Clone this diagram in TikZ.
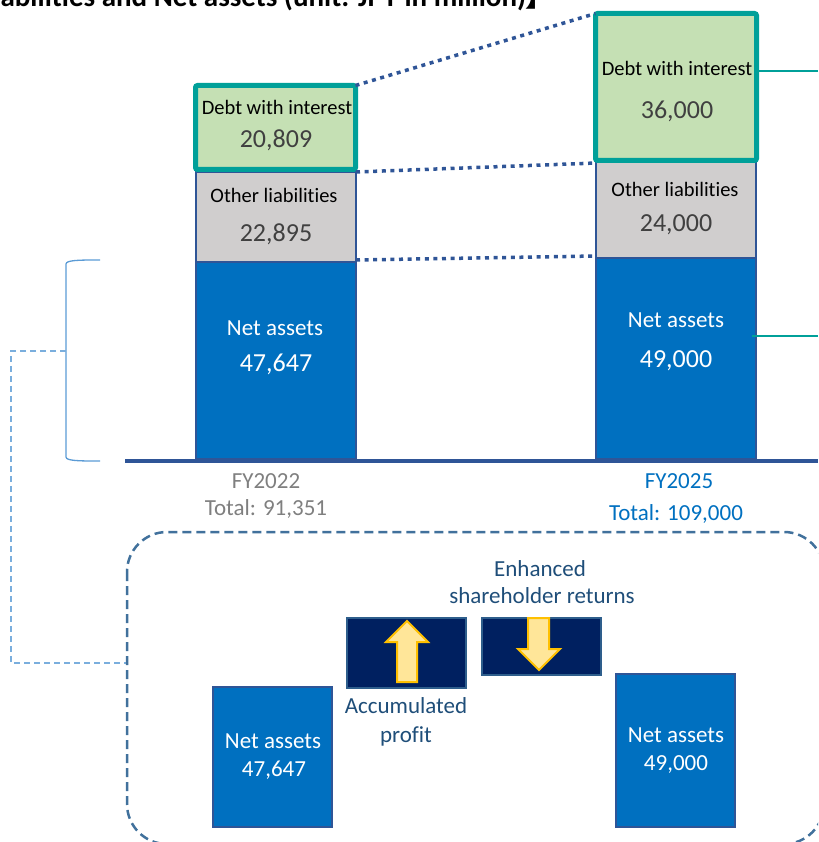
\documentclass[tikz,border=0pt]{standalone}
\usepackage{fontspec}
\setmainfont{Carlito}[RawFeature={-liga}]
\newfontfamily\cjkfont{Noto Sans CJK JP}

\definecolor{axisblue}{HTML}{2F5597}
\definecolor{debtteal}{HTML}{00A099}
\definecolor{greenfill}{HTML}{C5E0B4}
\definecolor{greyfill}{HTML}{D0CECE}
\definecolor{barblue}{HTML}{0070C0}
\definecolor{navyfill}{HTML}{002060}
\definecolor{navyedge}{HTML}{2E5E8C}
\definecolor{arrowfill}{HTML}{FFE699}
\definecolor{arrowedge}{HTML}{FFC000}
\definecolor{labelblue}{HTML}{1F4E79}
\definecolor{frameblue}{HTML}{41719C}
\definecolor{lightblue}{HTML}{5B9BD5}
\definecolor{paleblue}{HTML}{7AAEDD}
\definecolor{yeargrey}{HTML}{7F7F7F}
\definecolor{numgrey}{HTML}{404040}

\begin{document}
\begin{tikzpicture}[x=1pt,y=-1pt,
  seg/.style={draw=axisblue, line width=1.2pt, inner sep=0pt, outer sep=0pt, anchor=north west},
  othseg/.style={seg, fill=greyfill},
  netseg/.style={seg, fill=barblue},
  debtseg/.style={draw=debtteal, line width=5pt, fill=greenfill, rounded corners=2pt,
    inner sep=0pt, outer sep=0pt, anchor=north west},
  lbl/.style={anchor=base, inner sep=0pt},
  seglbl/.style={lbl, font=\fontsize{20.5}{24}\selectfont, text=black},
  segnum/.style={lbl, font=\fontsize{26}{30}\selectfont, text=numgrey},
  netlbl/.style={lbl, font=\fontsize{23}{27}\selectfont, text=white},
  netnum/.style={lbl, font=\fontsize{26}{30}\selectfont, text=white},
  link/.style={draw=axisblue, line width=3.5pt, dash pattern=on 4pt off 4.6pt},
  tealline/.style={draw=debtteal, line width=1.4pt},
  navybox/.style={draw=navyedge, line width=1.6pt, fill=navyfill, inner sep=0pt, outer sep=0pt, anchor=north west},
  smallnet/.style={draw=axisblue, line width=1.6pt, fill=barblue, inner sep=0pt, outer sep=0pt, anchor=north west},
  fatarrow/.style={fill=arrowfill, draw=arrowedge, line width=2pt, line join=miter},
  txtblue/.style={lbl, font=\fontsize{23}{27}\selectfont, text=labelblue}
]
\useasboundingbox (0,0) rectangle (818,842);
\clip (0,0) rectangle (818,842);

% heading (runs off the top edge)
\node[anchor=base west, inner sep=0pt, font=\bfseries\fontsize{29}{34}\selectfont] (title) at (-48,7)
  {{\cjkfont 【}Liabilities and Net assets (unit: JPY in million){\cjkfont 】}};

% ---- FY2022 stacked bar
\node[othseg, minimum width=160pt, minimum height=90pt] (lo) at (196,172) {};
\node[netseg, minimum width=160pt, minimum height=197pt] (ln) at (196,262) {};
\node[debtseg, minimum width=160pt, minimum height=84pt] (ld) at (195.5,85.5) {};

% ---- FY2025 stacked bar
\node[othseg, minimum width=160pt, minimum height=98pt] (ro) at (596,160) {};
\node[netseg, minimum width=160pt, minimum height=201pt] (rn) at (596,258) {};
\node[debtseg, minimum width=161pt, minimum height=147pt] (rd) at (595.5,13.5) {};

% segment labels
\node[seglbl] (ldt) at (277,115) {Debt with interest};
\node[segnum] (ldn) at (276,148) {20,809};
\node[seglbl] (lot) at (274,203) {Other liabilities};
\node[segnum] (lon) at (276,241) {22,895};
\node[netlbl] (lnt) at (275,335) {Net assets};
\node[netnum] (lnn) at (276,371) {47,647};

\node[seglbl] (rdt) at (677,76) {Debt with interest};
\node[segnum] (rdn) at (677,119) {36,000};
\node[seglbl] (rot) at (675,197) {Other liabilities};
\node[segnum] (ron) at (676,232) {24,000};
\node[netlbl] (rnt) at (676,327) {Net assets};
\node[netnum] (rnn) at (676,367) {49,000};

% dotted links between the two bars
\draw[link] (ld.north east) -- (rd.north west);
\draw[link] (lo.north east) -- ([yshift=-3pt]ro.north west);
\draw[link] ([yshift=2pt]ln.north east) -- ([yshift=2pt]rn.north west);

% teal leader lines to the right
\coordinate (t1) at (818,71);
\coordinate (t2) at (818,336);
\draw[tealline] (rd.north east |- t1) -- (t1);
\draw[tealline] ([xshift=-4pt]rn.east |- t2) -- (t2);

% axis
\coordinate (axL) at (125,461);
\coordinate (axR) at (818,461);
\draw[axisblue, line width=3.2pt] (axL) -- (axR);

% year labels
\node[lbl, font=\fontsize{23}{27}\selectfont, text=yeargrey] (y1) at (266,488) {FY2022};
\node[lbl, font=\fontsize{23}{27}\selectfont, text=yeargrey] (y1t) at (266,515) {Total: 91,351};
\node[lbl, font=\fontsize{23}{27}\selectfont, text=barblue] (y2) at (679,488) {FY2025};
\node[lbl, font=\fontsize{23}{27}\selectfont, text=barblue] (y2t) at (676,520) {Total: 109,000};

% bracket around FY2022 net assets
\coordinate (bt) at (100,260);
\coordinate (bb) at (100,461);
\draw[lightblue, line width=1.3pt] (bt) .. controls (80,260) and (66,260) .. (66,264)
  -- (66,457) .. controls (66,461) and (80,461) .. (bb);

% dashed guide from the bracket into the detail frame
\coordinate (g0) at (66,351);
\coordinate (g1) at (126,663);
\draw[paleblue, line width=1.3pt, dash pattern=on 6pt off 4pt] (g0) -- (11,351) -- (11,663) -- (g1);

% detail frame
\draw[frameblue, line width=2.5pt, dash pattern=on 9pt off 5pt, rounded corners=40pt]
  (127,532) rectangle (824,844);

% detail contents
\node[smallnet, minimum width=119pt, minimum height=140pt] (bl) at (213,687) {};
\node[netlbl] (blt) at (273,748) {Net assets};
\node[netlbl] (bln) at (274,776) {47,647};

\node[smallnet, minimum width=119pt, minimum height=153pt] (br) at (616,674) {};
\node[netlbl] (brt) at (676,742) {Net assets};
\node[netlbl] (brn) at (676,770) {49,000};

\node[navybox, minimum width=119pt, minimum height=70pt] (up) at (347,618) {};
\node[navybox, minimum width=119pt, minimum height=57pt] (dn) at (482,618) {};

\draw[fatarrow] (407,621) -- (428,642) -- (417,642) -- (417,682) -- (397,682) -- (397,642) -- (386,642) -- cycle;
\draw[fatarrow] (539,670) -- (560,649) -- (549,649) -- (549,618) -- (528,618) -- (528,649) -- (518,649) -- cycle;

\node[txtblue] (eh1) at (540,576) {Enhanced};
\node[txtblue] (eh2) at (542,603) {shareholder returns};
\node[txtblue] (ap1) at (406,713) {Accumulated};
\node[txtblue] (ap2) at (406,742) {profit};
\end{tikzpicture}
\end{document}
